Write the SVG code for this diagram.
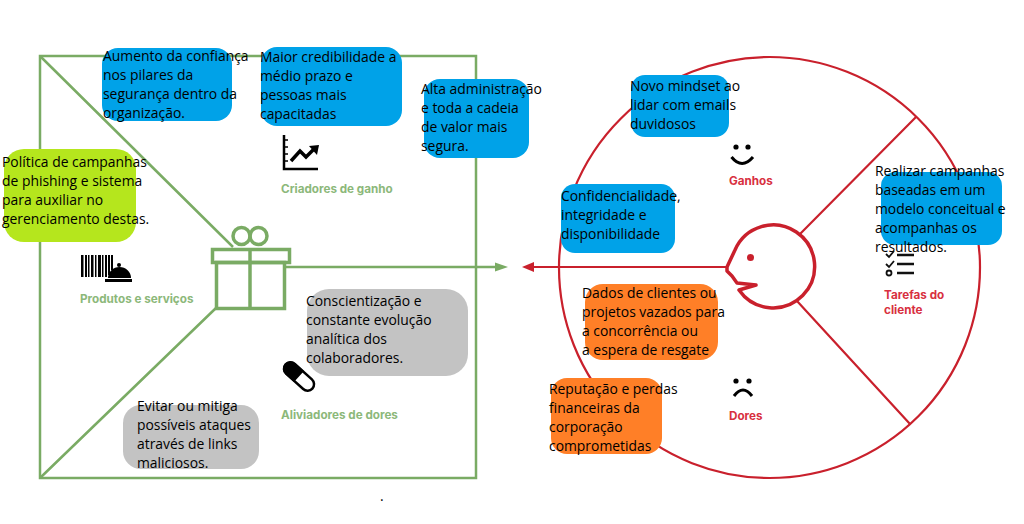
<svg xmlns="http://www.w3.org/2000/svg" width="1024" height="524" viewBox="0 0 1024 524">
<style>
.t{font-family:"Open Sans","Noto Sans",sans-serif;font-size:13.9px;fill:#000}
.g{fill:none;stroke:#7aab64;stroke-width:2.5}
.gi{fill:none;stroke:#7aab64;stroke-width:3.500}
.r{fill:none;stroke:#c9202c;stroke-width:2.200}
.rh{fill:#fff;stroke:#c9202c;stroke-width:3.500;stroke-linejoin:round}
.lg{font-family:"Inter","Lato",sans-serif;font-size:11.7px;font-weight:700;fill:#8cb87a}
.lr{font-family:"Inter","Lato",sans-serif;font-size:11.7px;font-weight:700;fill:#d8303f}
.blue{fill:#00a2e8}.orange{fill:#ff7f27}.gray{fill:#c3c3c3}.lime{fill:#b5e61d}
</style>
<rect width="1024" height="524" fill="#fff"/>
<g id="connectors">
<rect class="g" x="40" y="56" width="436" height="422"/>
<path class="g" d="M40 56L233 247M40 478L216 308M286 267H496"/>
<path d="M495 262.500L508 267L495 271.500Z" fill="#7aab64"/>
<circle class="r" cx="769.500" cy="267.500" r="210.500"/>
<path class="r" d="M800 234L916 117M797 301L910 424M728 267H530"/>
<path d="M534 262L522 267L534 272Z" fill="#c9202c"/>
</g>
<g id="gift">
<circle class="gi" cx="241.500" cy="236" r="8.500"/><circle class="gi" cx="258.500" cy="236" r="8.500"/>
<rect class="gi" x="212.500" y="249.500" width="77" height="13"/>
<rect class="gi" x="216.500" y="262.500" width="68" height="46"/>
<path class="gi" d="M250 249V309"/>
</g>
<g id="head">
<path class="rh" d="M735 250A41.500 41.500 0 1 1 739 290L756 285L737 283L732 276L727 271L727 267Z"/>
<circle cx="750.500" cy="257.500" r="3.500" fill="#c9202c"/>
</g>
<g id="icon-ganhos"><circle cx="736" cy="147" r="2.600"/><circle cx="748" cy="147" r="2.600"/><path d="M731.500 157Q742 170 753 157" fill="none" stroke="#000" stroke-width="3"/><text class="lr" x="729" y="185">Ganhos</text></g>
<g id="icon-dores"><circle cx="736" cy="381" r="2.600"/><circle cx="749" cy="381" r="2.600"/><path d="M734 396Q743 384 752 396" fill="none" stroke="#000" stroke-width="3"/><text class="lr" x="729" y="420">Dores</text></g>
<g id="icon-tarefas"><path d="M886 254L889 257L894 251M886 264L889 267L894 261" fill="none" stroke="#111" stroke-width="1.800"/><circle cx="889" cy="273" r="2.500" fill="none" stroke="#111" stroke-width="1.800"/><path d="M897 255H914M897 264H914M897 273H914" stroke="#111" stroke-width="2.500"/><text class="lr" x="884" y="299">Tarefas do</text><text class="lr" x="884" y="314">cliente</text></g>
<g id="icon-criadores"><path d="M284 135V169H318" fill="none" stroke="#000" stroke-width="2.500"/><path d="M285 140h3M285 147h3M285 154h3M285 161h3" stroke="#000" stroke-width="1.500"/><path d="M291 161L300 151L306 157L315 148" fill="none" stroke="#000" stroke-width="3.500"/><path d="M309 146L319 145L317 155Z"/><text class="lg" x="281" y="193">Criadores de ganho</text></g>
<g id="icon-produtos"><path d="M81 255h2.500v22h-2.500zM85 255h2v22h-2zM88 255h1.500v22h-1.500zM91 255h2.500v22h-2.500zM95 255h1.500v22h-1.500zM98 255h3v22h-3zM102 255h1.500v22h-1.500zM105 255h2v22h-2zM108 255h2v20h-2zM111 255h2v15h-2z"/><path d="M108 278a11.500 11 0 0 1 23 0zM105 279h27v3h-27z"/><circle cx="119" cy="265" r="2"/><text class="lg" x="80" y="303">Produtos e serviços</text></g>
<g id="icon-aliviadores" transform="translate(0 0)"><g transform="rotate(42 299 376.500)"><rect x="281" y="370" width="36" height="13" rx="6.500" fill="#fff" stroke="#000" stroke-width="2.500"/><path d="M299 369H287.500a7.500 7.500 0 0 0 0 15H299Z"/></g><text class="lg" x="281" y="419">Aliviadores de dores</text></g>
<g id="n-aumento"><rect class="blue" x="102" y="48" width="130" height="73" rx="16"/><text class="t"><tspan x="103" y="61">Aumento da confiança</tspan><tspan x="103" y="80">nos pilares da</tspan><tspan x="103" y="99">segurança dentro da</tspan><tspan x="103" y="118">organização.</tspan></text></g>
<g id="n-maior"><rect class="blue" x="261" y="47" width="141" height="79" rx="16"/><text class="t"><tspan x="260" y="62">Maior credibilidade a</tspan><tspan x="260" y="81">médio prazo e</tspan><tspan x="260" y="100">pessoas mais</tspan><tspan x="260" y="119">capacitadas</tspan></text></g>
<g id="n-alta"><rect class="blue" x="424" y="79" width="105" height="79" rx="16"/><text class="t"><tspan x="421" y="94">Alta administração</tspan><tspan x="421" y="113">e toda a cadeia</tspan><tspan x="421" y="132">de valor mais</tspan><tspan x="421" y="151">segura.</tspan></text></g>
<g id="n-mindset"><rect class="blue" x="631" y="75" width="98" height="62" rx="14"/><text class="t"><tspan x="630" y="91">Novo mindset ao</tspan><tspan x="630" y="110">lidar com emails</tspan><tspan x="630" y="129">duvidosos</tspan></text></g>
<g id="n-confid"><rect class="blue" x="561" y="184" width="114" height="69" rx="14"/><text class="t"><tspan x="561" y="201">Confidencialidade,</tspan><tspan x="561" y="220">integridade e</tspan><tspan x="561" y="239">disponibilidade</tspan></text></g>
<g id="n-realizar"><rect class="blue" x="881" y="172" width="121" height="73" rx="14"/><text class="t"><tspan x="875" y="176">Realizar campanhas</tspan><tspan x="875" y="195">baseadas em um</tspan><tspan x="875" y="214">modelo conceitual e</tspan><tspan x="875" y="233">acompanhas os</tspan><tspan x="875" y="252">resultados.</tspan></text></g>
<g id="n-politica"><rect class="lime" x="4" y="149" width="132" height="93" rx="20"/><text class="t"><tspan x="2" y="167">Política de campanhas</tspan><tspan x="2" y="186">de phishing e sistema</tspan><tspan x="2" y="205">para auxiliar no</tspan><tspan x="2" y="224">gerenciamento destas.</tspan></text></g>
<g id="n-consc"><rect class="gray" x="307" y="289" width="161" height="87" rx="22"/><text class="t"><tspan x="306" y="306">Conscientização e</tspan><tspan x="306" y="325">constante evolução</tspan><tspan x="306" y="344">analítica dos</tspan><tspan x="306" y="363">colaboradores.</tspan></text></g>
<g id="n-evitar"><rect class="gray" x="123" y="405" width="136" height="64" rx="18"/><text class="t"><tspan x="137" y="411">Evitar ou mitiga</tspan><tspan x="137" y="430">possíveis ataques</tspan><tspan x="137" y="449">através de links</tspan><tspan x="137" y="468">maliciosos.</tspan></text></g>
<g id="n-dados"><rect class="orange" x="585" y="284" width="133" height="76" rx="18"/><text class="t"><tspan x="582" y="298">Dados de clientes ou</tspan><tspan x="582" y="317">projetos vazados para</tspan><tspan x="582" y="336">a concorrência ou</tspan><tspan x="582" y="355">a espera de resgate</tspan></text></g>
<g id="n-reput"><rect class="orange" x="551" y="378" width="111" height="76" rx="16"/><text class="t"><tspan x="549" y="394">Reputação e perdas</tspan><tspan x="549" y="413">financeiras da</tspan><tspan x="549" y="432">corporação</tspan><tspan x="549" y="451">comprometidas</tspan></text></g>
<text class="t" x="380" y="501">.</text>
</svg>
